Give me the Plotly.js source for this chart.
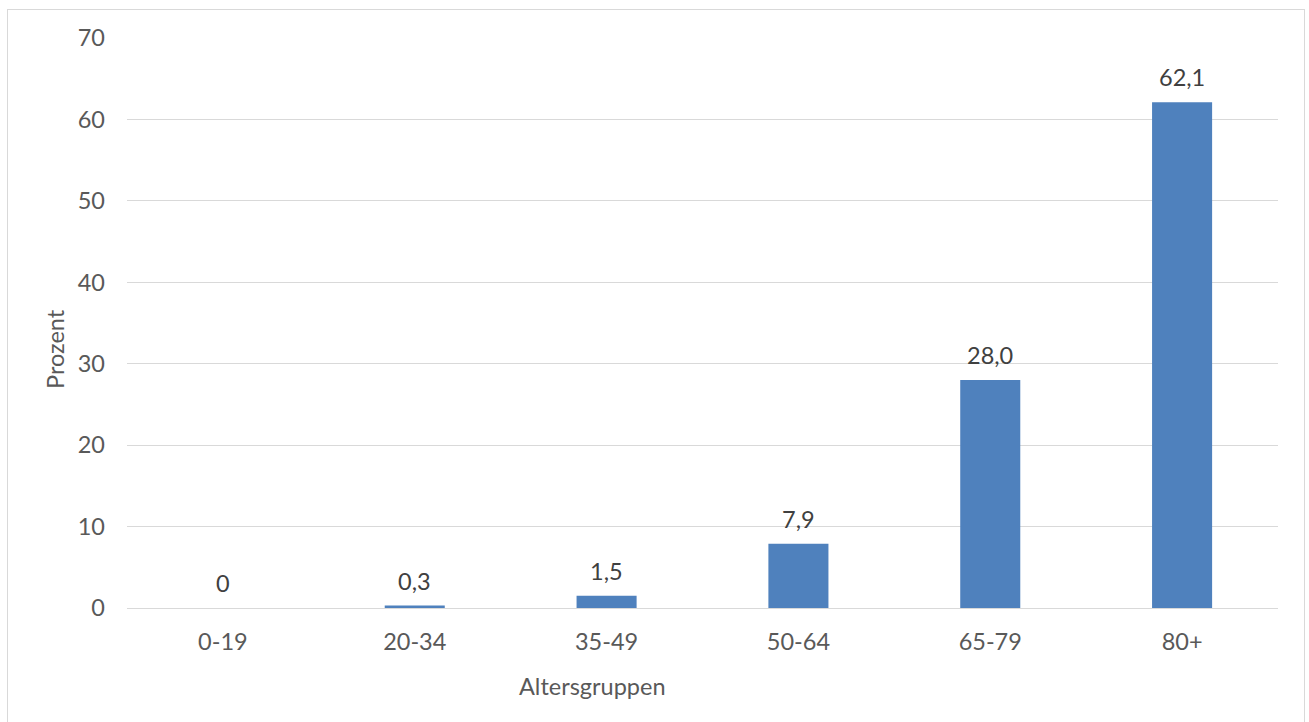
<!DOCTYPE html>
<html>
<head>
<meta charset="utf-8">
<script src="https://cdn.plot.ly/plotly-3.0.1.min.js"></script>
<style>
html,body{margin:0;padding:0;background:#fff;}
#chart{width:1309px;height:722px;}
#frame{position:absolute;left:7px;top:9px;width:1298px;height:720px;border:1px solid #d9d9d9;pointer-events:none;box-sizing:border-box;}
</style>
</head>
<body>
<div id="chart"></div>
<div id="frame"></div>
<script>
const categories = ["0-19", "20-34", "35-49", "50-64", "65-79", "80+"];
const values = [0, 0.3, 1.5, 7.9, 28.0, 62.1];
const valueLabels = ["0", "0,3", "1,5", "7,9", "28,0", "62,1"];
const yTicks = [0, 10, 20, 30, 40, 50, 60, 70];
const xTitle = "Altersgruppen";
const yTitle = "Prozent";

const font = "Lato, 'Open Sans', sans-serif";
const FS = 23.5;

const trace = {
  type: "bar",
  x: categories,
  y: values,
  marker: {color: "#4f81bd", line: {width: 0}},
  hoverinfo: "skip"
};

const annotations = categories.map((c, i) => ({
  x: c, y: values[i], xref: "x", yref: "y",
  text: valueLabels[i], showarrow: false,
  yanchor: "bottom", yshift: 9,
  font: {family: font, size: FS, color: "#404040"}
}));
annotations.push({
  x: (592 - 127) / 1151, xref: "paper", y: -78 / 570, yref: "paper",
  xanchor: "center", yanchor: "middle",
  text: xTitle, showarrow: false,
  font: {family: font, size: FS, color: "#595959"}
});
annotations.push({
  x: (55 - 127) / 1151, xref: "paper", y: (608 - 349) / 570, yref: "paper",
  xanchor: "center", yanchor: "middle", textangle: -90,
  text: yTitle, showarrow: false,
  font: {family: font, size: FS, color: "#595959"}
});

const layout = {
  width: 1309, height: 722,
  margin: {l: 127, r: 31, t: 38, b: 114},
  paper_bgcolor: "#ffffff", plot_bgcolor: "#ffffff",
  bargap: 0.687,
  showlegend: false,
  font: {family: font, size: FS, color: "#595959"},
  xaxis: {
    type: "category",
    showgrid: false,
    showline: false,
    zeroline: false,
    ticks: "",
    ticklabelstandoff: 17,
    tickfont: {family: font, size: FS, color: "#595959"}
  },
  yaxis: {
    range: [0, 70],
    tickvals: yTicks,
    ticktext: yTicks.map(String),
    showgrid: true,
    gridcolor: "#d9d9d9",
    gridwidth: 1,
    zeroline: true,
    zerolinecolor: "#d9d9d9",
    zerolinewidth: 1,
    showline: false,
    ticks: "",
    ticklabelstandoff: 21,
    tickfont: {family: font, size: FS, color: "#595959"}
  },
  annotations: annotations
};

Plotly.newPlot("chart", [trace], layout, {displayModeBar: false, staticPlot: true});
</script>
</body>
</html>
